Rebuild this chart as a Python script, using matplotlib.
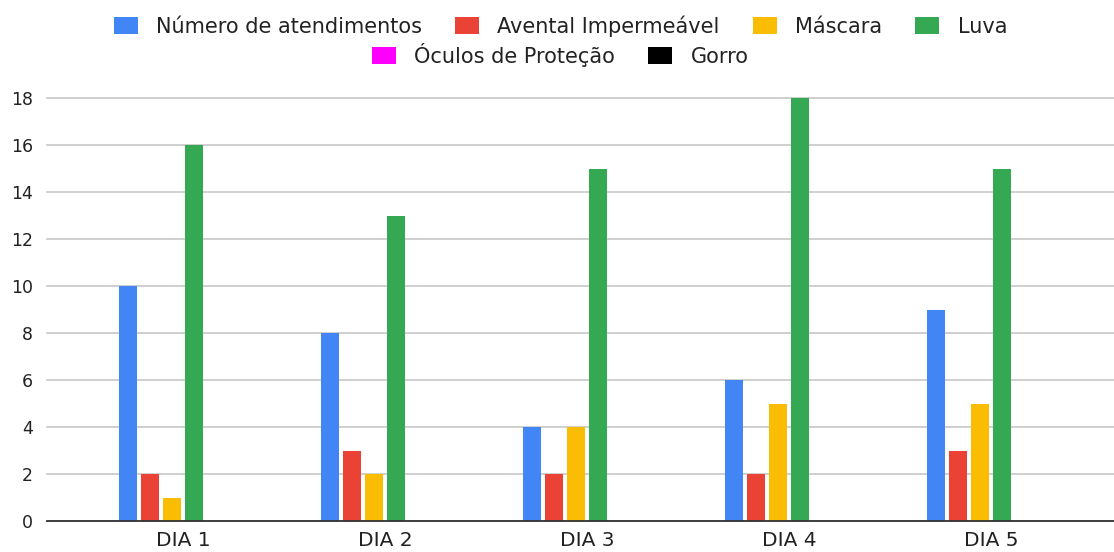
import matplotlib
matplotlib.use("Agg")
import matplotlib.pyplot as plt
import numpy as np
from matplotlib.patches import Patch

days = ["DIA 1", "DIA 2", "DIA 3", "DIA 4", "DIA 5"]
series_names = ["Número de atendimentos", "Avental Impermeável", "Máscara",
                "Luva", "Óculos de Proteção", "Gorro"]
atendimentos = [10, 8, 4, 6, 9]
avental = [2, 3, 2, 2, 3]
mascara = [1, 2, 4, 5, 5]
luva = [16, 13, 15, 18, 15]
oculos = [0, 0, 0, 0, 0]
gorro = [0, 0, 0, 0, 0]
colors = ["#4285F4", "#EA4335", "#FBBC04", "#34A853", "#FF00FF", "#000000"]
y_ticks = [0, 2, 4, 6, 8, 10, 12, 14, 16, 18]

series = [atendimentos, avental, mascara, luva, oculos, gorro]

plt.rcParams["font.family"] = ["DejaVu Sans"]
fig = plt.figure(figsize=(11.14, 5.52), dpi=100)
ax = fig.add_axes([47 / 1114, 31 / 552, 1067 / 1114, 423 / 552])

x = np.arange(len(days))
step = 0.1089
width = 0.0891
n = len(series)
for k, (vals, col) in enumerate(zip(series, colors)):
    ax.bar(x + (k - (n - 1) / 2) * step, vals, width=width, color=col,
           zorder=3, linewidth=0)

ax.set_xlim(-0.6733, 4.609)
ax.set_ylim(0, 18)
ax.set_yticks(y_ticks)
ax.set_xticks(x)
ax.set_xticklabels(days, fontsize=14.5, color="#222222")
ax.tick_params(axis="y", length=0, pad=10, labelsize=12.5, labelcolor="#222222")
ax.tick_params(axis="x", length=0, pad=7)
ax.grid(axis="y", color="#cccccc", linewidth=1.3, zorder=0)
for gl in ax.get_ygridlines():
    gl.set_clip_on(False)
ax.set_axisbelow(True)
for s in ["top", "right", "left"]:
    ax.spines[s].set_visible(False)
ax.spines["bottom"].set_color("#333333")
ax.spines["bottom"].set_linewidth(1.3)
ax.spines["bottom"].set_zorder(4)

handles = [Patch(facecolor=c, edgecolor="none") for c in colors]
common = dict(frameon=False, fontsize=15, handlelength=1.15, handleheight=0.87,
              handletextpad=0.87, columnspacing=1.6, borderpad=0, borderaxespad=0)
leg1 = fig.legend(handles[:4], series_names[:4], loc="center", ncol=4,
                  bbox_to_anchor=(0.503, 1 - 26 / 552), **common)
leg2 = fig.legend(handles[4:], series_names[4:], loc="center", ncol=2,
                  bbox_to_anchor=(0.503, 1 - 55 / 552), **common)
for lg in (leg1, leg2):
    for t in lg.get_texts():
        t.set_color("#222222")

fig.savefig("out.png", dpi=100)
